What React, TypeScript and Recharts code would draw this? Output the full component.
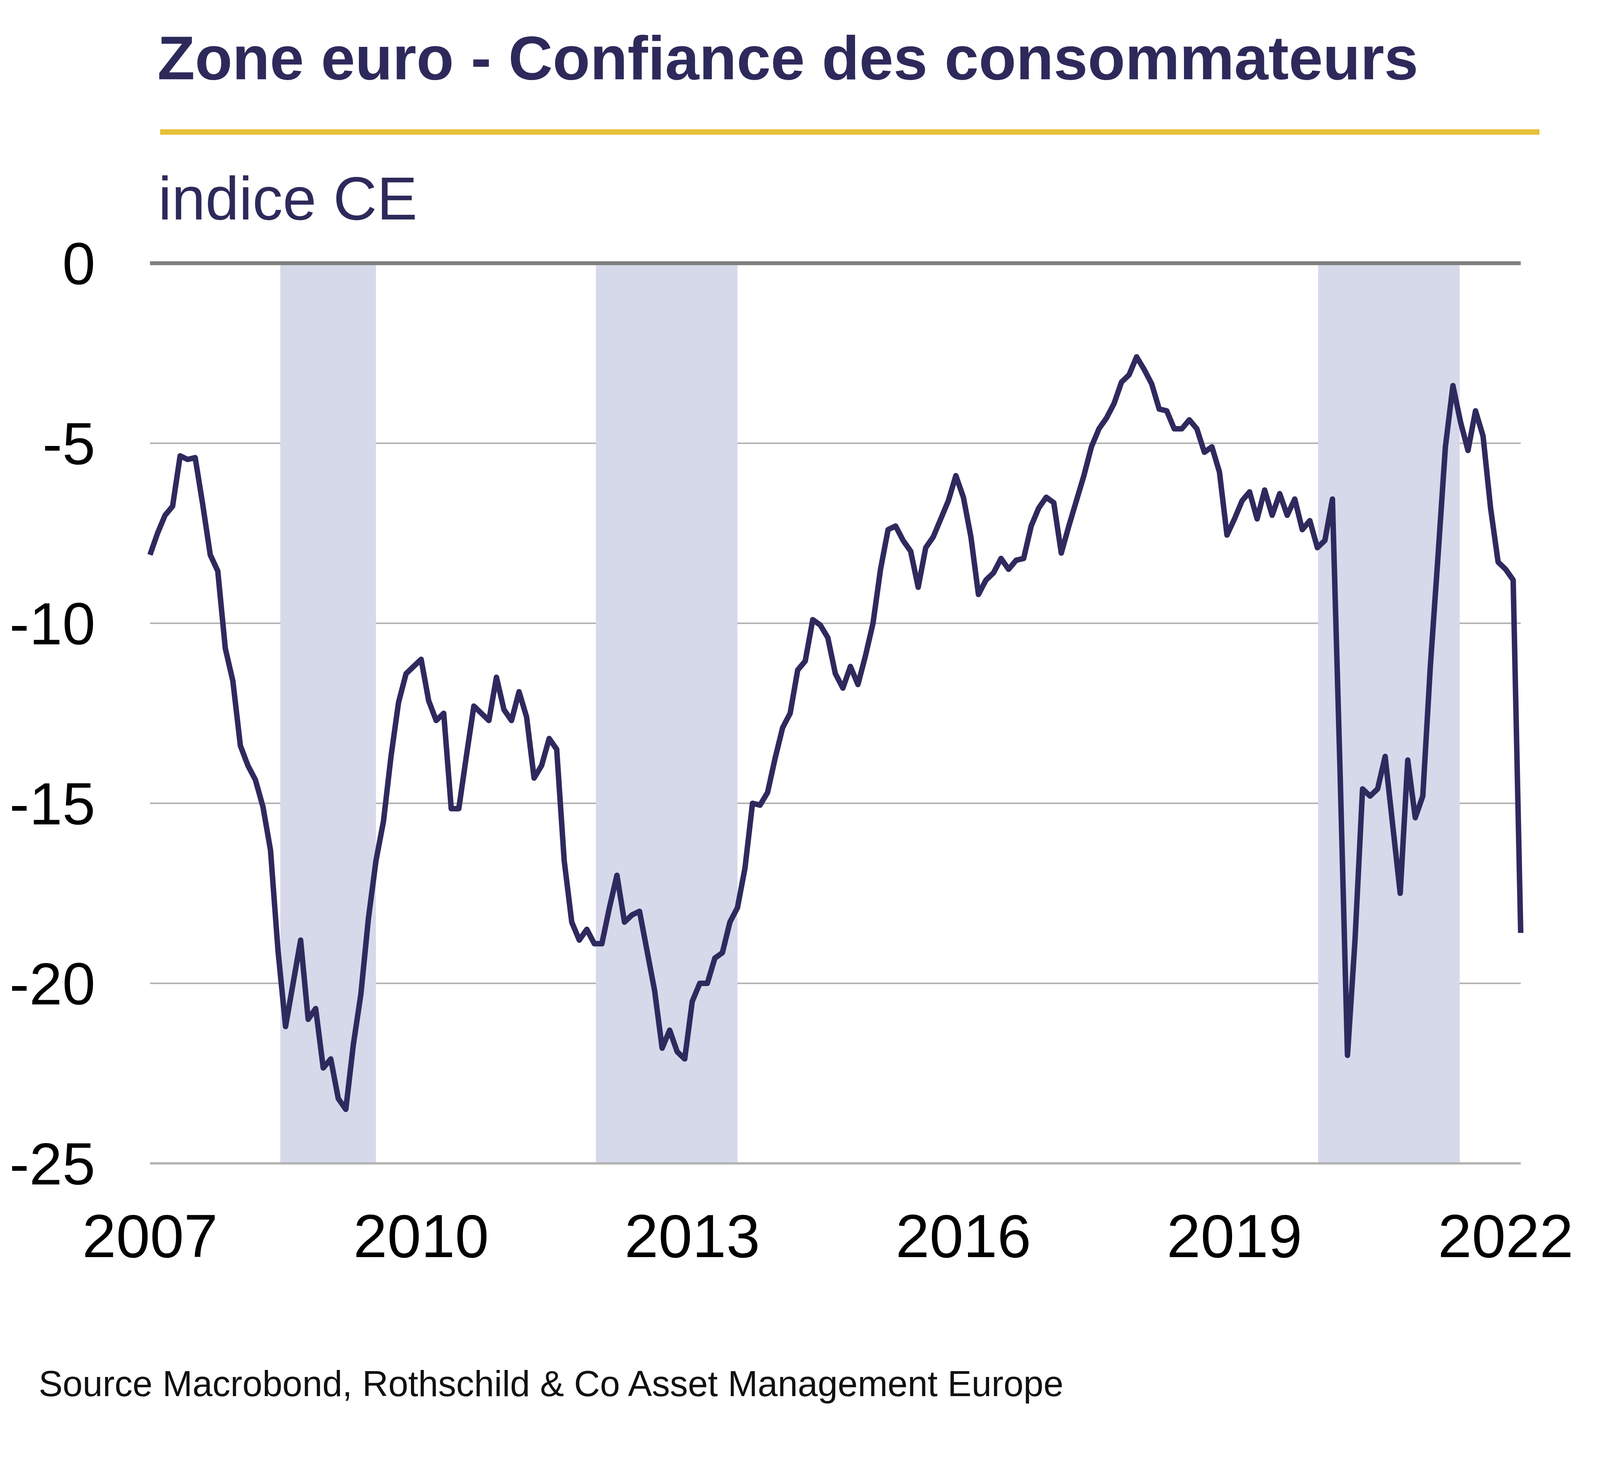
import React from 'react';
import {
  LineChart,
  Line,
  XAxis,
  YAxis,
  CartesianGrid,
  ReferenceArea,
  ReferenceLine,
} from 'recharts';

// Euro area consumer confidence, monthly, Jan 2007 - Mar 2022
const v2007 = [-8.1, -7.5, -7.0, -6.75, -5.35, -5.45, -5.4, -6.7, -8.1, -8.55, -10.7, -11.6];
const v2008 = [-13.4, -13.95, -14.35, -15.1, -16.3, -19.1, -21.2, -20.0, -18.8, -21.0, -20.7, -22.35];
const v2009 = [-22.1, -23.2, -23.5, -21.7, -20.3, -18.2, -16.6, -15.5, -13.7, -12.2, -11.4, -11.2];
const v2010 = [-11.0, -12.15, -12.7, -12.5, -15.15, -15.15, -13.7, -12.3, -12.5, -12.7, -11.5, -12.4];
const v2011 = [-12.7, -11.9, -12.6, -14.3, -13.95, -13.2, -13.5, -16.6, -18.3, -18.8, -18.5, -18.9];
const v2012 = [-18.9, -17.9, -17.0, -18.3, -18.1, -18.0, -19.1, -20.2, -21.8, -21.3, -21.9, -22.1];
const v2013 = [-20.5, -20.0, -20.0, -19.3, -19.15, -18.3, -17.9, -16.8, -15.0, -15.05, -14.7, -13.75];
const v2014 = [-12.9, -12.5, -11.3, -11.05, -9.9, -10.05, -10.4, -11.4, -11.8, -11.2, -11.7, -10.9];
const v2015 = [-10.0, -8.5, -7.4, -7.3, -7.7, -8.0, -9.0, -7.9, -7.6, -7.1, -6.6, -5.9];
const v2016 = [-6.5, -7.6, -9.2, -8.8, -8.6, -8.2, -8.5, -8.25, -8.2, -7.3, -6.8, -6.5];
const v2017 = [-6.65, -8.05, -7.3, -6.6, -5.9, -5.1, -4.6, -4.3, -3.9, -3.3, -3.1, -2.6];
const v2018 = [-2.95, -3.35, -4.05, -4.1, -4.6, -4.6, -4.35, -4.6, -5.25, -5.1, -5.8, -7.55];
const v2019 = [-7.1, -6.6, -6.35, -7.1, -6.3, -7.0, -6.4, -7.0, -6.55, -7.4, -7.15, -7.9];
const v2020 = [-7.7, -6.55, -14.0, -22.0, -18.8, -14.6, -14.8, -14.6, -13.7, -15.6, -17.5, -13.8];
const v2021 = [-15.4, -14.8, -11.2, -8.2, -5.1, -3.4, -4.4, -5.2, -4.1, -4.8, -6.8, -8.3];
const v2022 = [-8.5, -8.8, -18.6];

const years = ['2007', '2010', '2013', '2016', '2019', '2022'];
const yTicks = [0, -5, -10, -15, -20, -25];

// shaded periods, in months since Jan 2007
const bandStart = [17.3, 59.2, 155.1];
const bandEnd = [30.0, 78.0, 173.9];

const values = [
  ...v2007, ...v2008, ...v2009, ...v2010, ...v2011, ...v2012, ...v2013, ...v2014,
  ...v2015, ...v2016, ...v2017, ...v2018, ...v2019, ...v2020, ...v2021, ...v2022,
];
const data = values.map((v, i) => ({ m: i, v }));
const xTicks = years.map((y) => (Number(y) - 2007) * 12);

const font = '"Liberation Sans", Arial, sans-serif';
const navy = '#2d2a5b';

export default function App() {
  return (
    <div
      style={{
        position: 'absolute',
        left: 0,
        top: 0,
        width: 4224,
        height: 3777,
        background: '#fff',
        fontFamily: font,
        overflow: 'hidden',
      }}
    >
      <div
        style={{
          position: 'absolute',
          left: 403,
          top: 70,
          fontSize: 157,
          lineHeight: 1,
          fontWeight: 700,
          color: navy,
          whiteSpace: 'nowrap',
        }}
      >
        Zone euro - Confiance des consommateurs
      </div>
      <div
        style={{
          position: 'absolute',
          left: 410,
          top: 331,
          width: 3531,
          height: 14,
          background: '#e6c13a',
        }}
      />
      <div
        style={{
          position: 'absolute',
          left: 405,
          top: 431,
          fontSize: 155,
          lineHeight: 1,
          color: navy,
          whiteSpace: 'nowrap',
        }}
      >
        indice CE
      </div>

      <div style={{ position: 'absolute', left: 0, top: 0 }}>
        <LineChart
          width={4224}
          height={3300}
          data={data}
          margin={{ top: 674, right: 331, bottom: 121, left: 84 }}
        >
          <CartesianGrid vertical={false} stroke="#b4b4b4" strokeWidth={4} />
          {bandStart.map((s, i) => (
            <ReferenceArea
              key={i}
              x1={s}
              x2={bandEnd[i]}
              y1={-25}
              y2={0}
              fill="#d5d9ea"
              fillOpacity={1}
              stroke="none"
            />
          ))}
          <XAxis
            type="number"
            dataKey="m"
            domain={[0, 182]}
            ticks={xTicks}
            interval={0}
            tickFormatter={(m) => years[xTicks.indexOf(m)]}
            axisLine={false}
            tickLine={false}
            tickSize={0}
            tickMargin={129}
            height={200}
            tick={{ fill: '#000', fontSize: 156, fontFamily: font }}
          />
          <YAxis
            type="number"
            domain={[-25, 0]}
            ticks={yTicks}
            interval={0}
            axisLine={false}
            tickLine={false}
            tickSize={0}
            tickMargin={140}
            width={300}
            tick={{ fill: '#000', fontSize: 152, fontFamily: font }}
          />
          <ReferenceLine y={0} stroke="#7f7f7f" strokeWidth={10} />
          <ReferenceLine y={-25} stroke="#b4b4b4" strokeWidth={6} />
          <Line
            type="linear"
            dataKey="v"
            stroke="#2e2a5e"
            strokeWidth={14}
            strokeLinejoin="round"
            dot={false}
            activeDot={false}
            isAnimationActive={false}
          />
        </LineChart>
      </div>

      <div
        style={{
          position: 'absolute',
          left: 99,
          top: 3497,
          fontSize: 92,
          lineHeight: 1,
          color: '#111',
          whiteSpace: 'nowrap',
        }}
      >
        Source Macrobond, Rothschild &amp; Co Asset Management Europe
      </div>
    </div>
  );
}
